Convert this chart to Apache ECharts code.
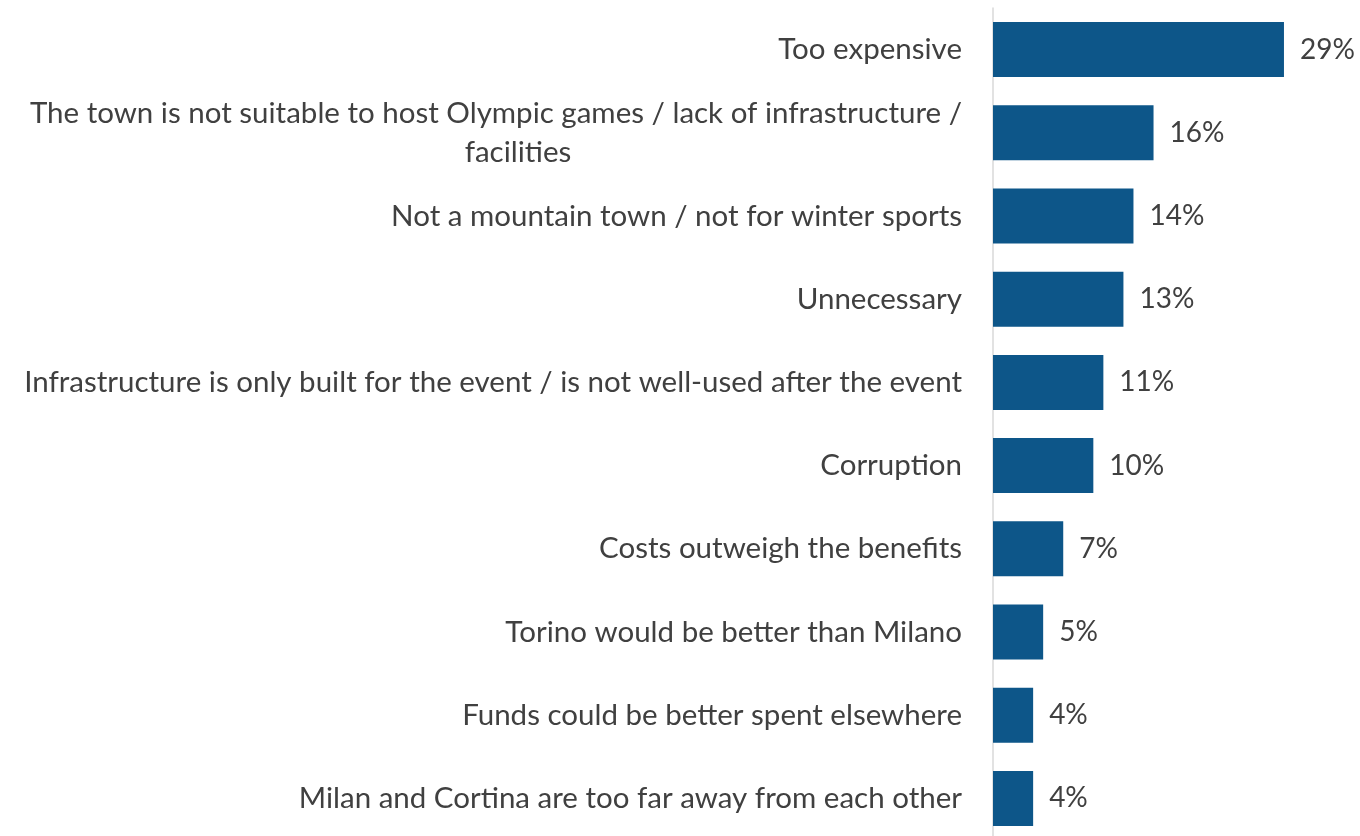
<!DOCTYPE html>
<html>
<head>
<meta charset="utf-8">
<script src="https://cdn.jsdelivr.net/npm/echarts@6/dist/echarts.min.js"></script>
<style>html,body{margin:0;padding:0;background:#fff}#c{width:1360px;height:836px}</style>
</head>
<body>
<div id="c"></div>
<script>
const categories = [
  "Too expensive",
  "The town is not suitable to host Olympic games / lack of infrastructure /\nfacilities",
  "Not a mountain town / not for winter sports",
  "Unnecessary",
  "Infrastructure is only built for the event / is not well-used after the event",
  "Corruption",
  "Costs outweigh the benefits",
  "Torino would be better than Milano",
  "Funds could be better spent elsewhere",
  "Milan and Cortina are too far away from each other"
];
const values = [29, 16, 14, 13, 11, 10, 7, 5, 4, 4];

const FONT = "Lato";
const FS = 29.5;
const chart = echarts.init(document.getElementById('c'), null, {renderer: 'canvas'});
chart.setOption({
  backgroundColor: '#ffffff',
  animation: false,
  grid: {left: 993, width: 301, top: 8, height: 832, outerBoundsMode: 'none', containLabel: false},
  xAxis: {
    type: 'value', min: 0, max: 30, show: false
  },
  yAxis: {
    type: 'category', inverse: true, data: categories,
    axisLine: {show: true, lineStyle: {color: '#D9D9D9', width: 1.5}},
    axisTick: {show: false},
    axisLabel: {
      margin: 31, color: '#404040', fontFamily: FONT, fontSize: FS,
      formatter: function (v) {
        const parts = v.split('\n');
        if (parts.length === 1) return '{a|' + v + '}';
        return '{a|' + parts[0] + '}\n{c|' + parts[1] + '}';
      },
      rich: {
        a: {color: '#404040', fontFamily: FONT, fontSize: FS, lineHeight: 39},
        c: {color: '#404040', fontFamily: FONT, fontSize: FS, lineHeight: 39, align: 'center', padding: [0, 0, 0, 44]}
      }
    }
  },
  series: [{
    type: 'bar', data: values, barWidth: 55,
    itemStyle: {color: '#0D5689'},
    label: {
      show: true, position: 'right', distance: 16,
      color: '#404040', fontFamily: FONT, fontSize: 28,
      formatter: '{c}%'
    }
  }]
});
</script>
</body>
</html>
